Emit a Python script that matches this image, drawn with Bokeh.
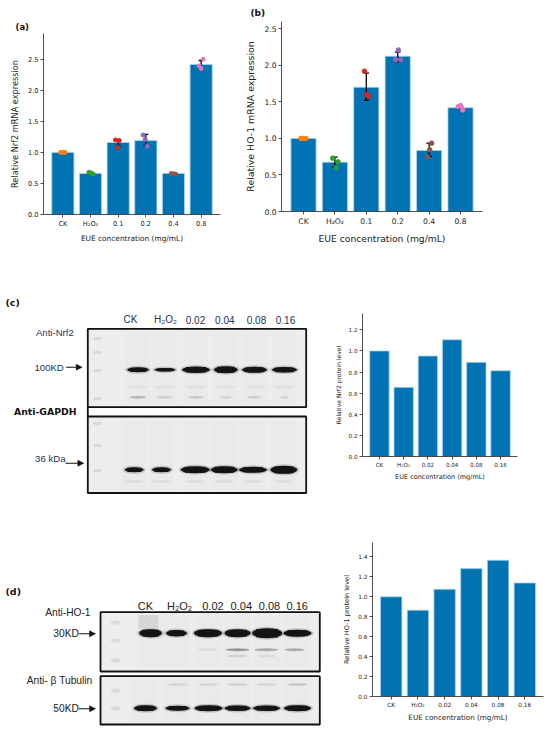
from bokeh.plotting import figure
from bokeh.models import (Range1d, FixedTicker, Arrow, NormalHead, Title,
                          PrintfTickFormatter)
from bokeh.layouts import row, column
from bokeh.embed import file_html
from bokeh.resources import INLINE
from bokeh.core.properties import value

# ---------------- DATA ----------------
mrna_groups = ["CK", "H₂O₂", "0.1", "0.2", "0.4", "0.8"]
prot_groups = ["CK", "H₂O₂", "0.02", "0.04", "0.08", "0.16"]

nrf2_mrna = [1.00, 0.66, 1.16, 1.19, 0.66, 2.415]
nrf2_mrna_pts = [[1.00, 1.00, 1.00], [0.68, 0.67, 0.65], [1.20, 1.19, 1.08],
                 [1.28, 1.21, 1.10], [0.66, 0.655, 0.65], [2.50, 2.39, 2.35]]
nrf2_mrna_jit = [[-0.08, 0.0, 0.08], [-0.06, 0.02, 0.10], [-0.10, 0.04, -0.02],
                 [-0.10, -0.02, 0.05], [-0.08, 0.0, 0.08], [0.07, -0.07, 0.0]]
nrf2_mrna_lo = [1.00, 0.655, 1.10, 1.11, 0.655, 2.35]
nrf2_mrna_hi = [1.00, 0.680, 1.21, 1.29, 0.665, 2.48]

ho1_mrna = [1.00, 0.675, 1.70, 2.125, 0.835, 1.42]
ho1_mrna_pts = [[1.00, 1.00, 1.00], [0.73, 0.68, 0.60], [1.92, 1.60, 1.58],
                [2.21, 2.08, 2.075], [0.935, 0.845, 0.745], [1.45, 1.435, 1.39]]
ho1_mrna_jit = [[-0.08, 0.0, 0.08], [-0.07, 0.10, 0.04], [-0.06, 0.0, 0.07],
                [0.02, -0.06, 0.10], [0.08, 0.02, -0.05], [0.0, -0.07, 0.07]]
ho1_mrna_lo = [1.00, 0.607, 1.52, 2.05, 0.753, 1.405]
ho1_mrna_hi = [1.00, 0.744, 1.893, 2.18, 0.935, 1.437]

nrf2_prot = [1.00, 0.655, 0.952, 1.106, 0.892, 0.813]
ho1_prot = [1.00, 0.866, 1.076, 1.283, 1.367, 1.139]

point_colors = ["#ff7f0e", "#2ca02c", "#d62728", "#9467bd", "#8c564b", "#e377c2"]

# ---------------- STYLE ----------------
BLUE = "#0173b2"
EDGE = "#a9d2ec"
AX = "#262626"
DJ = "DejaVu Sans"
ARIAL = "Liberation Sans"


def bar_chart(width, height, borders, ymax, yticks, groups, vals, ylabel,
              fs_tick, fs_ylab, fs_xlab, ylab_standoff, xlab_standoff):
    l, r, t, b = borders
    p = figure(width=width, height=height, x_range=Range1d(-0.7, 5.7),
               y_range=Range1d(0, ymax), output_backend="svg",
               toolbar_location=None, min_border_left=l, min_border_right=r,
               min_border_top=t, min_border_bottom=b, frame_align=False)
    p.outline_line_color = None
    p.grid.visible = False
    idx = list(range(len(groups)))
    p.vbar(x=idx, top=vals, width=0.8, fill_color=BLUE, line_color=EDGE,
           line_width=0.8)
    xa = p.xaxis[0]
    ya = p.yaxis[0]
    xa.ticker = FixedTicker(ticks=idx, minor_ticks=[])
    xa.major_label_overrides = {i: g for i, g in enumerate(groups)}
    ya.ticker = FixedTicker(ticks=yticks, minor_ticks=[])
    ya.formatter = PrintfTickFormatter(format="%.1f")
    for a in (xa, ya):
        a.axis_line_color = AX
        a.axis_line_width = 0.8
        a.major_tick_line_color = AX
        a.major_tick_line_width = 0.8
        a.major_tick_out = 3
        a.major_tick_in = 0
        a.minor_tick_out = 0
        a.major_label_text_font = DJ
        a.major_label_text_font_size = fs_tick
        a.major_label_text_color = "#222222"
        a.axis_label_text_font = DJ
        a.axis_label_text_font_style = "normal"
        a.axis_label_text_color = "#222222"
        a.major_label_standoff = 2
    ya.axis_label = ylabel
    ya.axis_label_text_font_size = fs_ylab
    ya.axis_label_standoff = ylab_standoff
    xa.axis_label = "EUE concentration (mg/mL)"
    xa.axis_label_text_font_size = fs_xlab
    xa.axis_label_standoff = xlab_standoff
    return p


def add_points(p, pts, jit, lo, hi, size):
    bx = list(range(len(pts)))
    p.segment(x0=bx, y0=lo, x1=bx, y1=hi, line_color="black", line_width=1.3)
    p.segment(x0=[x - 0.09 for x in bx], y0=lo, x1=[x + 0.09 for x in bx],
              y1=lo, line_color="black", line_width=1.3)
    p.segment(x0=[x - 0.09 for x in bx], y0=hi, x1=[x + 0.09 for x in bx],
              y1=hi, line_color="black", line_width=1.3)
    xs, ys, cs = [], [], []
    for i, (pp, jj) in enumerate(zip(pts, jit)):
        for v, j in zip(pp, jj):
            xs.append(i + j)
            ys.append(v)
            cs.append(point_colors[i])
    p.scatter(x=xs, y=ys, size=size, fill_color=cs, line_color=cs)


def panel_title(p, text, offset, standoff, size):
    p.add_layout(Title(text=text, align="left", offset=offset,
                       standoff=standoff, text_font=DJ, text_font_style="bold",
                       text_font_size=size, text_color="#111111"), "above")


# ---------------- ROW 1 : (a) (b) ----------------
fig_a = bar_chart(240, 258, (43, 20, 33, 44), 2.915, [0, 0.5, 1.0, 1.5, 2.0, 2.5],
                  mrna_groups, nrf2_mrna, "Relative Nrf2 mRNA expression",
                  "6.6px", "8.2px", "7.4px", 5, 3)
add_points(fig_a, nrf2_mrna_pts, nrf2_mrna_jit, nrf2_mrna_lo, nrf2_mrna_hi, 4)
panel_title(fig_a, "(a)", -28, 3, "8.5px")

fig_b = bar_chart(310, 258, (41, 68, 21, 47), 2.60, [0, 0.5, 1.0, 1.5, 2.0, 2.5],
                  mrna_groups, ho1_mrna, "Relative HO-1 mRNA expression",
                  "7.6px", "9.4px", "9.2px", 5, 4)
add_points(fig_b, ho1_mrna_pts, ho1_mrna_jit, ho1_mrna_lo, ho1_mrna_hi, 4.5)
panel_title(fig_b, "(b)", -31, 7, "9px")

# ---------------- protein charts ----------------
fig_c = bar_chart(230, 237, (42, 33, 55, 39), 1.355,
                  [0, 0.2, 0.4, 0.6, 0.8, 1.0, 1.2], prot_groups, nrf2_prot,
                  "Relative Nrf2 protein level", "5.6px", "6px", "6.5px", 4, 2)
fig_d = bar_chart(212, 235, (34, 7, 47, 34), 1.545,
                  [0, 0.2, 0.4, 0.6, 0.8, 1.0, 1.2, 1.4], prot_groups, ho1_prot,
                  "Relative HO-1 protein level", "5.8px", "6.6px", "7.2px", 4, 2)


# ---------------- WESTERN BLOT PANELS (pixel space) ----------------
def blot_canvas(width, height, x0, y0):
    p = figure(width=width, height=height, x_range=Range1d(x0, x0 + width),
               y_range=Range1d(y0 + height, y0), output_backend="svg",
               toolbar_location=None, min_border=0, x_axis_type=None,
               y_axis_type=None, frame_align=False)
    p.outline_line_color = None
    p.grid.visible = False
    return p


def box(p, l, r, t, b):
    p.quad(left=[l], right=[r], top=[t], bottom=[b], fill_color="#ededed",
           line_color="#111111", line_width=1.8)


def strips(p, xs, w, t, b, color="#e4e4e4"):
    p.quad(left=[x - w / 2 for x in xs], right=[x + w / 2 for x in xs],
           top=[t + 2] * len(xs), bottom=[b - 2] * len(xs), fill_color=color,
           fill_alpha=0.35, line_color=None)


def bands(p, xs, y, ws, hs, core="#141414", halo="#8a8a8a"):
    ys = [y] * len(xs)
    p.ellipse(x=xs, y=ys, width=[w + 4 for w in ws], height=[h + 3 for h in hs],
              fill_color=halo, fill_alpha=0.4, line_color=None)
    p.ellipse(x=xs, y=ys, width=ws, height=hs, fill_color=core, line_color=None)
    p.rect(x=xs, y=ys, width=[w * 0.72 for w in ws], height=[h * 0.85 for h in hs],
           fill_color=core, line_color=None)


def faint(p, xs, ys, ws, hs, colors):
    p.ellipse(x=xs, y=ys, width=ws, height=hs, fill_color=colors,
              fill_alpha=0.8, line_color=None)


def texts(p, xs, ys, txt, align, size, color, font=ARIAL, style="normal"):
    p.text(x=xs, y=ys, text=txt, text_align=align, text_baseline="middle",
           text_font=value(font), text_font_size=size, text_color=color,
           text_font_style=style)


def arrow(p, x0, x1, y, color):
    p.add_layout(Arrow(end=NormalHead(size=6, fill_color=color,
                                      line_color=color, line_width=0.5),
                       x_start=x0, y_start=y, x_end=x1, y_end=y,
                       line_color=color, line_width=1.1))


# ---- (c) blot ----
NAVY = "#263250"
blot_c = blot_canvas(320, 237, 0, 258)
box(blot_c, 87.3, 305.7, 328.3, 406.7)
box(blot_c, 87.3, 305.7, 416.0, 492.5)
blot_c.segment(x0=[87.3], y0=[406.7], x1=[87.3], y1=[416.0],
               line_color="#111111", line_width=1.8)
lanes_c_up = [137.5, 164.5, 195.5, 225.3, 254.0, 284.0]
lanes_c_lo = [133.7, 161.0, 194.7, 223.7, 252.5, 283.3]
strips(blot_c, lanes_c_up, 25, 329.5, 405.5)
strips(blot_c, lanes_c_lo, 25, 417.5, 491.5)
faint(blot_c, [97] * 7, [338, 351.7, 370, 398, 423, 445, 470],
      [9] * 7, [3] * 7, ["#d2d2d2"] * 7)
faint(blot_c, lanes_c_up, [386.5] * 6, [20] * 6, [3] * 6, ["#dcdcdc"] * 6)
faint(blot_c, lanes_c_up, [396.7] * 6, [17, 16, 16, 12, 15, 8], [3] * 6,
      ["#ababab", "#c8c8c8", "#bfbfbf", "#cfcfcf", "#c8c8c8", "#d0d0d0"])
faint(blot_c, lanes_c_lo, [481] * 6, [20] * 6, [3] * 6, ["#dadada"] * 6)
bands(blot_c, lanes_c_up, 369.3, [21.7, 21, 27.7, 24, 25, 25],
      [5, 3.5, 6.5, 7, 6, 5.5])
bands(blot_c, lanes_c_lo, 469.3, [19, 19, 29, 27, 28, 27], [5, 5, 7, 7, 6, 8])
texts(blot_c, [130, 165, 195, 224.3, 256, 285], [319.3] * 6, prot_groups,
      "center", "10px", NAVY)
texts(blot_c, [73.3, 63.3, 65], [331.7, 366.7, 458.3],
      ["Anti-Nrf2", "100KD", "36 kDa"], "right", "9.6px", NAVY)
texts(blot_c, [76], [410.7], ["Anti-GAPDH"], "right", "9.3px", "#111111",
      font=DJ, style="bold")
texts(blot_c, [5], [301.7], ["(c)"], "left", "9.5px", "#111111", font=DJ,
      style="bold")
arrow(blot_c, 65.7, 81.7, 366.7, "#111111")
arrow(blot_c, 65.0, 83.3, 462.7, "#111111")

# ---- (d) blot ----
DARK = "#222222"
blot_d = blot_canvas(338, 235, 0, 495)
box(blot_d, 100.0, 319.3, 611.7, 671.0)
box(blot_d, 100.0, 319.3, 675.7, 724.0)
lanes_d_up = [150.0, 176.0, 207.5, 237.0, 266.7, 297.0]
lanes_d_lo = [145.0, 177.0, 208.0, 237.0, 266.0, 297.0]
strips(blot_d, lanes_d_up, 26, 613, 669.5)
strips(blot_d, lanes_d_lo, 26, 677, 722.5)
faint(blot_d, [115] * 5, [622, 640, 660, 690, 708], [9] * 5, [4] * 5,
      ["#d4d4d4"] * 5)
blot_d.rect(x=[148], y=[621], width=[20], height=[13], fill_color="#c4c4c4",
            fill_alpha=0.55, line_color=None)
faint(blot_d, [207, 237, 266, 294], [649.3] * 4, [20, 24, 24, 20], [3] * 4,
      ["#d6d6d6", "#858585", "#979797", "#9a9a9a"])
faint(blot_d, [237, 266], [655.5] * 2, [20, 18], [2.5] * 2,
      ["#cacaca", "#d6d6d6"])
faint(blot_d, lanes_d_lo[1:], [684] * 5, [20] * 5, [2.5] * 5,
      ["#cfcfcf", "#cfcfcf", "#c8c8c8", "#d0d0d0", "#bdbdbd"])
bands(blot_d, lanes_d_up, 632.7, [23, 21, 28, 26, 30, 28], [8, 6.5, 8, 8, 10, 7])
bands(blot_d, lanes_d_lo, 707.7, [23, 24, 28, 26, 27, 27], [6, 5, 6, 5.5, 5.5, 6])
texts(blot_d, [145, 179, 212.5, 240.8, 269, 296.7], [605] * 6, prot_groups,
      "center", "11px", DARK)
texts(blot_d, [90, 78.3, 91.7, 78.3], [611.7, 633.3, 680, 708.3],
      ["Anti-HO-1", "30KD", "Anti- β Tubulin", "50KD"], "right", "10.2px", DARK)
texts(blot_d, [5], [591], ["(d)"], "left", "9.5px", "#111111", font=DJ,
      style="bold")
arrow(blot_d, 78.3, 95.0, 633.3, "#111111")
arrow(blot_d, 78.3, 95.0, 708.3, "#111111")

layout = column(row(fig_a, fig_b), row(blot_c, fig_c), row(blot_d, fig_d))
open("out.html", "w").write(file_html(layout, INLINE))
